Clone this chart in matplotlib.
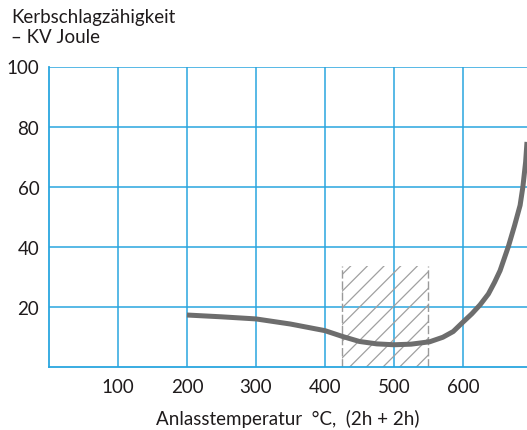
import matplotlib
matplotlib.use("Agg")
import matplotlib.pyplot as plt
from matplotlib.patches import Rectangle

plt.rcParams['font.family'] = ['Lato', 'DejaVu Sans']
plt.rcParams['hatch.linewidth'] = 0.9

# Data
temp = [200, 250, 300, 350, 400, 425, 450, 475, 500, 525, 552, 571, 586, 600,
        613, 625, 637, 646, 654, 666, 675, 683, 687, 691, 693]
kv = [17.3, 16.7, 16.0, 14.3, 12.1, 10.2, 8.5, 7.7, 7.4, 7.6, 8.4, 9.9, 11.8, 14.9,
      17.7, 20.7, 24.3, 28.2, 32.1, 40.1, 47.1, 53.8, 59.9, 68.2, 74.9]

range_lo, range_hi, range_top = 425, 550, 33.5

x_ticks = [100, 200, 300, 400, 500, 600]
y_ticks = [20, 40, 60, 80, 100]

grid_c = '#2aa6df'
text_c = '#1f1b1c'

fig = plt.figure(figsize=(5.27, 4.31), dpi=100)
ax = fig.add_axes([49/527, (431-368)/431, 1-49/527, (368-67.5)/431])
ax.set_xlim(0, 693)
ax.set_ylim(0, 100)

for xv in x_ticks:
    ax.axvline(xv, color=grid_c, lw=1.1, zorder=1)
for yv in y_ticks:
    ax.axhline(yv, color=grid_c, lw=1.1, zorder=1)

rect = Rectangle((range_lo, 0), range_hi - range_lo, range_top, facecolor='none',
                 edgecolor='#a0a0a0', hatch='//', lw=0, zorder=2)
ax.add_patch(rect)
ax.vlines([range_lo, range_hi], 0, range_top, colors='#9a9a9a', lw=1.0,
          linestyles=(0, (6, 2)), zorder=2)

ax.plot(temp, kv, color='#6d6d6d', lw=3.6, solid_capstyle='butt',
        solid_joinstyle='round', zorder=3)

for s in ['top', 'right']:
    ax.spines[s].set_visible(False)
for s in ['left', 'bottom']:
    ax.spines[s].set_color(grid_c)
    ax.spines[s].set_linewidth(1.3)

ax.set_xticks(x_ticks)
ax.set_yticks(y_ticks)
ax.tick_params(length=0, labelsize=13.5, colors=text_c, pad=8)
ax.tick_params(axis='y', pad=7)
ax.set_xticklabels([str(v) for v in x_ticks])
ax.set_yticklabels([str(v) for v in y_ticks])

ax.set_xlabel('Anlasstemperatur  °C,  (2h + 2h)', fontsize=13.5, color=text_c, labelpad=10)

fig.text(11/527, 1 - 9/431, 'Kerbschlagzähigkeit\n– KV Joule', ha='left', va='top',
         fontsize=13.5, color=text_c, linespacing=1.22)

fig.savefig('out.png', dpi=100)
